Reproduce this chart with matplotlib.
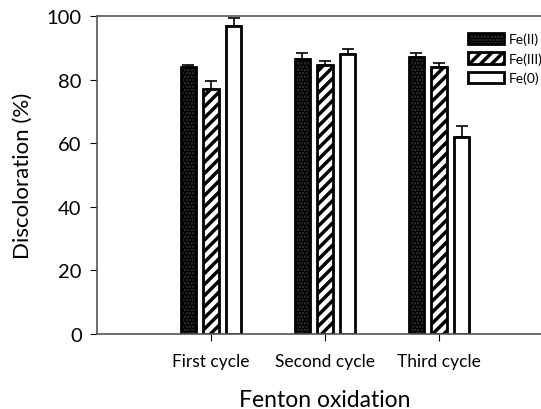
import numpy as np
import matplotlib
matplotlib.use("Agg")
import matplotlib.pyplot as plt

plt.rcParams['font.family'] = ['Lato', 'DejaVu Sans']
plt.rcParams['hatch.linewidth'] = 2.5

ciclos = ['First cycle', 'Second cycle', 'Third cycle']
series = ['Fe(II)', 'Fe(III)', 'Fe(0)']
fe2 = [84.0, 86.5, 87.0]
fe3 = [77.0, 84.5, 84.0]
fe0 = [97.0, 88.0, 62.0]
err_fe2 = [0.7, 2.0, 1.5]
err_fe3 = [2.5, 1.2, 1.3]
err_fe0 = [2.3, 1.6, 3.5]


def generar_grafico():
    fig = plt.figure(figsize=(5.41, 4.10), dpi=100)
    ax = fig.add_axes([97 / 541, 75 / 410, 456 / 541, 318 / 410])
    x = np.arange(1, len(ciclos) + 1)
    ancho = 0.135
    paso = 0.2
    estilos = [
        dict(facecolor='#2b2b2b', hatch='.....'),
        dict(facecolor='white', hatch='///'),
        dict(facecolor='white', hatch=None),
    ]
    datos = [fe2, fe3, fe0]
    errores = [err_fe2, err_fe3, err_fe0]
    for i, (nombre, vals, errs, est) in enumerate(zip(series, datos, errores, estilos)):
        pos = x + (i - 1) * paso
        ax.bar(pos, vals, ancho, edgecolor='black', linewidth=2,
               label=nombre, zorder=2, **est)
        ax.errorbar(pos, vals, yerr=[np.zeros(len(errs)), errs], fmt='none',
                    ecolor='black', elinewidth=1.2, capsize=4, capthick=1.2, zorder=3)

    ax.set_xlim(0, 4)
    ax.set_ylim(0, 100)
    ax.set_yticks([0, 20, 40, 60, 80, 100])
    ax.set_xticks(x)
    ax.set_xticklabels(ciclos, fontsize=12.5)
    ax.tick_params(axis='y', labelsize=14.5, direction='out', length=5, pad=6)
    ax.tick_params(axis='x', direction='out', length=5, pad=9)
    ax.set_ylabel('Discoloration (%)', fontsize=16, labelpad=10)
    ax.set_xlabel('Fenton oxidation', fontsize=16.5, labelpad=14)
    for s in ax.spines.values():
        s.set_color('#555555')
        s.set_linewidth(1.2)
    ax.spines['right'].set_visible(False)

    ax.legend(loc='upper left', bbox_to_anchor=(0.802, 0.965), frameon=False,
              fontsize=10, handlelength=2.6, handleheight=0.9,
              handletextpad=0.3, labelspacing=0.5, borderaxespad=0)

    fig.savefig('out.png', dpi=100)
    plt.close(fig)


if __name__ == '__main__':
    generar_grafico()
